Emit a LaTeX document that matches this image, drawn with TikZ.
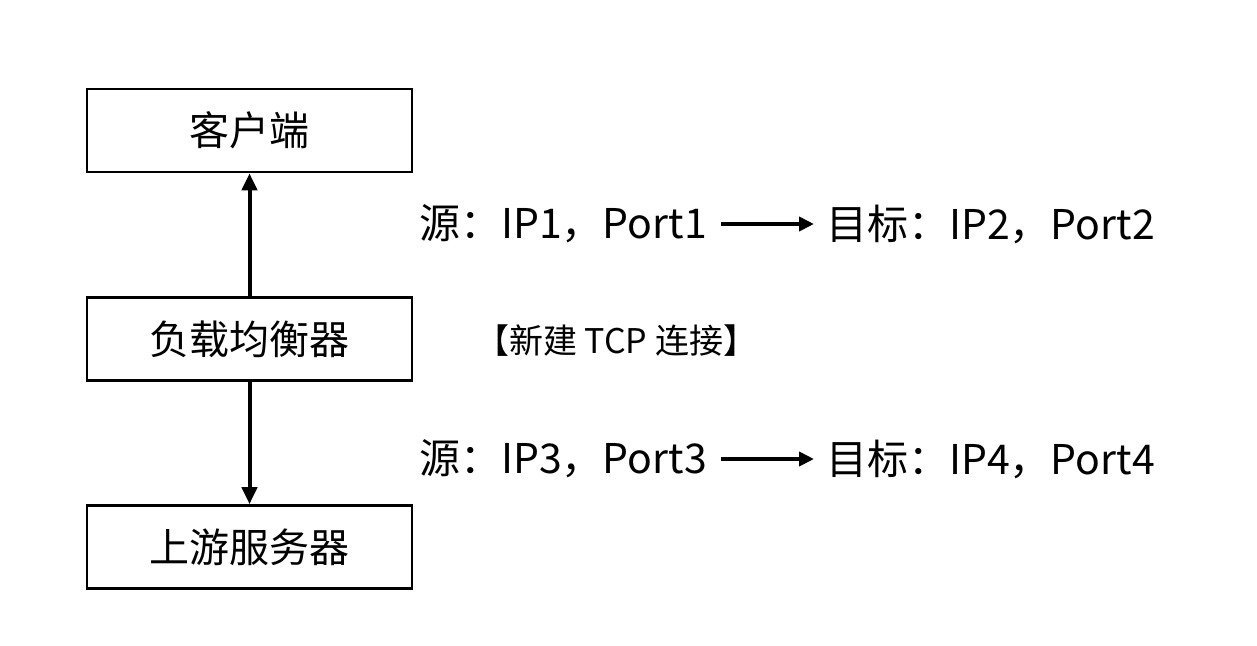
\documentclass[tikz,border=0pt]{standalone}
\usepackage{fontspec}
\setmainfont{Noto Sans CJK SC}
\usetikzlibrary{arrows.meta}
\begin{document}
\begin{tikzpicture}[x=1pt,y=-1pt,
  box/.style={draw,line width=2.6pt,minimum width=325pt,minimum height=83pt,inner sep=0pt,font=\fontsize{40}{44}\selectfont},
  label/.style={inner sep=0pt,font=\fontsize{41}{45}\selectfont},
  note/.style={inner sep=0pt,font=\fontsize{34}{38}\selectfont},
  link/.style={line width=4pt,-{Triangle[width=15pt,length=17pt]}},
  flow/.style={line width=4.5pt,-{Triangle[width=14pt,length=15pt]}}]
\useasboundingbox (0,0) rectangle (1257,645);
\fill[white] (0,0) rectangle (1257,645);

% stacked components
\node[box] (client) at (249.5,130.5) {客户端};
\node[box] (lb) at (249.5,339) {负载均衡器};
\node[box] (upstream) at (249.5,547) {上游服务器};

\draw[link] (lb.north) -- (client.south);
\draw[link] (lb.south) -- (upstream.north);

% connection endpoints, client side
\node[label,anchor=west] (src1) at (419,224) {源：IP1，Port1};
\node[label,anchor=west] (dst1) at (826,224) {目标：IP2，Port2};
\draw[flow] ([xshift=14pt]src1.east) -- ([xshift=-12pt]dst1.west);

% note between the two connections
\node[note,anchor=west] (newconn) at (475,341) {【新建 TCP 连接】};

% connection endpoints, upstream side
\node[label,anchor=west] (src2) at (419,459) {源：IP3，Port3};
\node[label,anchor=west] (dst2) at (826,459) {目标：IP4，Port4};
\draw[flow] ([xshift=14pt]src2.east) -- ([xshift=-12pt]dst2.west);
\end{tikzpicture}
\end{document}
